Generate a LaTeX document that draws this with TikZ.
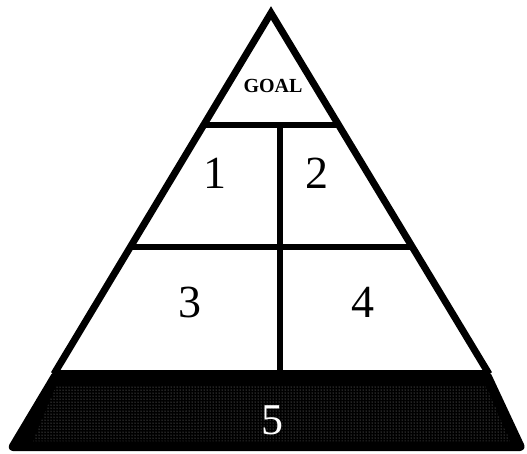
\documentclass[tikz,border=0pt]{standalone}
\usepackage{fontspec}
\setmainfont{Liberation Serif}
\usetikzlibrary{patterns}
\tikzset{
  edge/.style={line width=7pt, line join=miter},
  divider/.style={line width=6.5pt},
  digit/.style={font=\fontsize{46}{46}\selectfont, inner sep=0pt},
}
\begin{document}
\begin{tikzpicture}[x=1pt,y=-1pt]
\useasboundingbox (0,0) rectangle (527,453);
% key points
\coordinate (apex) at (271,13);
\coordinate (L1) at (204,125);
\coordinate (R1) at (338,125);
\coordinate (L2) at (131,247);
\coordinate (R2) at (412,247);
\coordinate (L3) at (54,374);
\coordinate (R3) at (489,374);
\coordinate (Vt) at (280,125);
\coordinate (Vb) at (280,374);
% base band
\filldraw[black, line width=4pt, line join=round, rounded corners=4pt]
  (55,372) -- (488,372) -- (524,449) -- (9,449) -- cycle;
\fill[pattern=dots, pattern color=gray!85]
  (56,386) -- (486,386) -- (510,441) -- (33,441) -- cycle;
% outline
\draw[edge] (L3) -- (apex) -- (R3);
\draw[divider] (L1) -- (R1);
\draw[divider] (L2) -- (R2);
\draw[divider] (Vt) -- (Vb);
% labels
\node[font=\fontsize{20}{20}\selectfont\bfseries, inner sep=0pt] (goal) at (273,86) {GOAL};
\node[digit] (n1) at (215,173) {1};
\node[digit] (n2) at (317,173) {2};
\node[digit] (n3) at (190,302) {3};
\node[digit] (n4) at (363,302) {4};
\node[digit, text=white, font=\fontsize{44}{44}\selectfont] (n5) at (272,420) {5};
\end{tikzpicture}
\end{document}
